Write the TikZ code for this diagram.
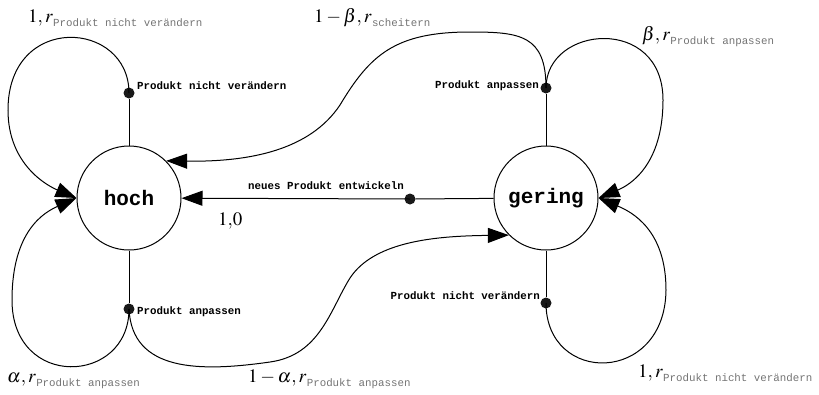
\documentclass[tikz,border=0pt]{standalone}
\usepackage{mathptmx}
\usepackage{fontspec}
\setmonofont{Liberation Mono}
\setmainfont{Liberation Serif}
\usetikzlibrary{arrows.meta}
\definecolor{subgray}{gray}{0.45}
\newcommand\mysubtxt[1]{\raisebox{-4.5pt}{\fontsize{10.8}{12}\selectfont\ttfamily\color{subgray}#1}}
\newcommand\mylbl[2]{$#1,r$\kern0.3pt\mysubtxt{#2}}
\begin{document}
\begin{tikzpicture}[x=1pt,y=-1pt,
  state/.style={circle,draw,line width=1pt,minimum size=104pt,inner sep=0pt,font=\fontsize{21}{21}\selectfont\ttfamily\bfseries},
  dotc/.style={circle,fill=black!90,inner sep=0pt,minimum size=11pt},
  act/.style={font=\fontsize{10.8}{12}\selectfont\ttfamily\bfseries,inner sep=0pt},
  lbl/.style={anchor=base west,inner sep=0pt,font=\fontsize{19}{22}\selectfont},
  edge/.style={line width=1pt},
  arr/.style={edge,-{Triangle[length=21pt,width=15pt]}}]
\useasboundingbox (0,0) rectangle (819,394);

% states
\node[state] (hoch) at (129,198) {hoch};
\node[state] (gering) at (546,198) {gering};

% action dots
\node[dotc] (pa) at (129,93) {};
\node[dotc] (pb) at (546,88) {};
\node[dotc] (pc) at (129,309) {};
\node[dotc] (pd) at (546,303) {};
\node[dotc] (pe) at (410,199) {};

% action labels
\node[act,anchor=west] (ta) at (137,86) {Produkt nicht verändern};
\node[act,anchor=east] (tb) at (539,86) {Produkt anpassen};
\node[act,anchor=west] (tc) at (137,312) {Produkt anpassen};
\node[act,anchor=east] (td) at (540,296) {Produkt nicht verändern};
\node[act] (te) at (326,186) {neues Produkt entwickeln};

% stems
\draw[edge] (hoch) -- (pa);
\draw[edge] (gering) -- (pb);
\draw[edge] (hoch) -- (pc);
\draw[edge] (gering) -- (pd);
\draw[edge] (gering) -- (pe);

% transitions
\draw[arr] (pe.center) -- (hoch);
\draw[arr] (pa.center) .. controls (129,20) and (8,12) .. (8,110)
  .. controls (8,165) and (48,186) .. (hoch.west);
\draw[arr] (pc.center) .. controls (129,385) and (12,390) .. (12,300)
  .. controls (12,230) and (45,212) .. (hoch.west);
\draw[arr] (pc.center) .. controls (132,372) and (200,372) .. (270,362)
  .. controls (320,355) and (330,310) .. (350,278)
  .. controls (375,240) and (440,236) .. (gering.south west);
\draw[arr] (pb.center) .. controls (546,35) and (520,32) .. (470,32)
  .. controls (395,32) and (370,55) .. (340,105)
  .. controls (310,150) and (250,162) .. (hoch.north east);
\draw[arr] (pb.center) .. controls (546,25) and (663,15) .. (663,100)
  .. controls (663,165) and (630,185) .. (gering.east);
\draw[arr] (pd.center) .. controls (546,385) and (665,385) .. (666,290)
  .. controls (666,230) and (632,212) .. (gering.east);

% probability / reward labels
\node[lbl] (l1) at (28,22) {\mylbl{1}{Produkt nicht verändern}};
\node[lbl] (l2) at (314,22) {\mylbl{1-\beta}{scheitern}};
\node[lbl] (l3) at (642,40) {\mylbl{\beta}{Produkt anpassen}};
\node[lbl] (l4) at (7,382) {\mylbl{\alpha}{Produkt anpassen}};
\node[lbl] (l5) at (248,382) {\mylbl{1-\alpha}{Produkt anpassen}};
\node[lbl] (l6) at (638,377) {\mylbl{1}{Produkt nicht verändern}};
\node[lbl] (l7) at (218,225) {$1{,}0$};
\end{tikzpicture}
\end{document}
